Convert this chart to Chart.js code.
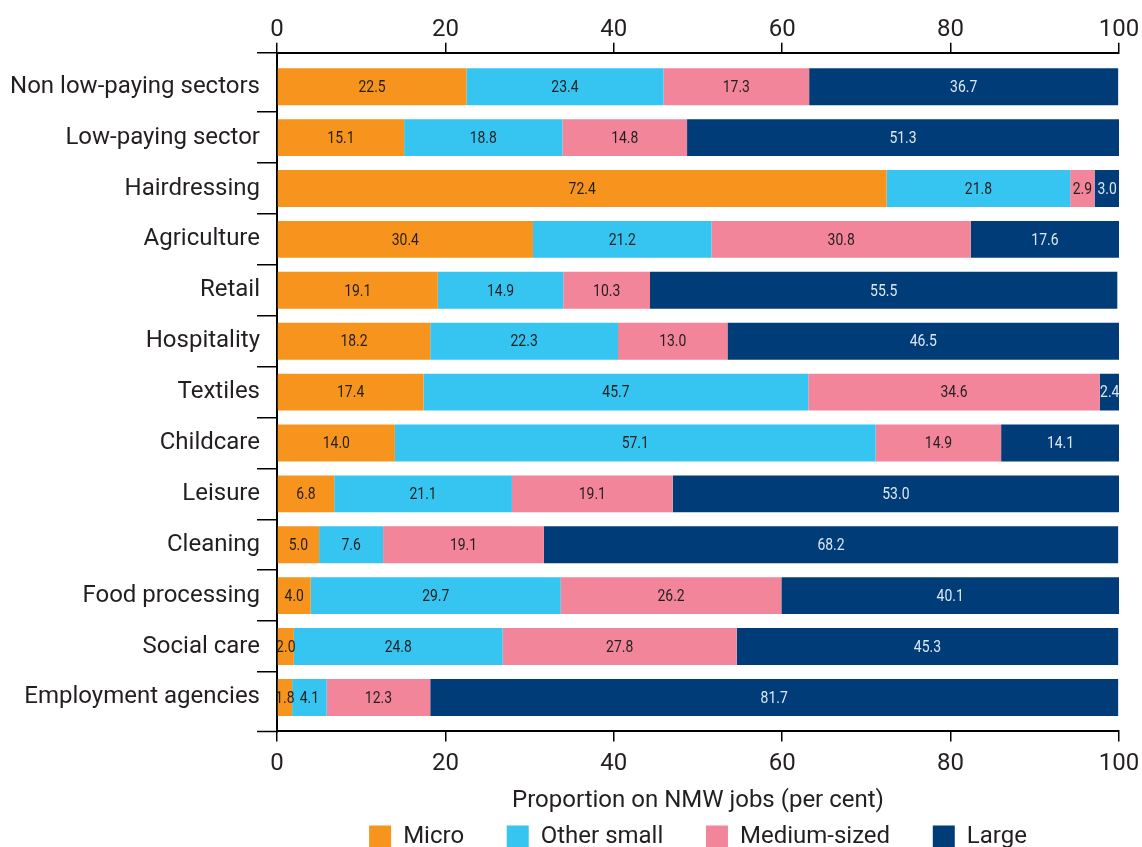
<!DOCTYPE html>
<html>
<head>
<meta charset="utf-8">
<script src="https://cdn.jsdelivr.net/npm/chart.js@4.4.1/dist/chart.umd.min.js"></script>
<style>
  body { margin: 0; background: #fff; }
  #wrap { width: 1142px; height: 847px; }
</style>
</head>
<body>
<div id="wrap"><canvas id="sizeChart"></canvas></div>
<script>
const sectors = [
  "Non low-paying sectors", "Low-paying sector", "Hairdressing", "Agriculture", "Retail",
  "Hospitality", "Textiles", "Childcare", "Leisure", "Cleaning", "Food processing",
  "Social care", "Employment agencies"
];
const micro = [22.5, 15.1, 72.4, 30.4, 19.1, 18.2, 17.4, 14.0, 6.8, 5.0, 4.0, 2.0, 1.8];
const otherSmall = [23.4, 18.8, 21.8, 21.2, 14.9, 22.3, 45.7, 57.1, 21.1, 7.6, 29.7, 24.8, 4.1];
const mediumSized = [17.3, 14.8, 2.9, 30.8, 10.3, 13.0, 34.6, 14.9, 19.1, 19.1, 26.2, 27.8, 12.3];
const large = [36.7, 51.3, 3.0, 17.6, 55.5, 46.5, 2.4, 14.1, 53.0, 68.2, 40.1, 45.3, 81.7];
const xTicks = [0, 20, 40, 60, 80, 100];

const fontFamily = "Roboto, 'Liberation Sans', sans-serif";
const textColor = "#231f20";
const gap = "\u00a0\u00a0\u00a0\u00a0\u00a0\u2009";

// values written in the middle of each segment
const segmentLabels = {
  id: "segmentLabels",
  afterDatasetsDraw(chart) {
    const ctx = chart.ctx;
    ctx.save();
    ctx.font = "17px " + fontFamily;
    ctx.textAlign = "center";
    ctx.textBaseline = "middle";
    chart.data.datasets.forEach((ds, i) => {
      const meta = chart.getDatasetMeta(i);
      meta.data.forEach((bar, j) => {
        const cx = (bar.x + bar.base) / 2;
        ctx.fillStyle = i === 3 ? "#dde7f2" : textColor;
        ctx.save();
        ctx.translate(cx, bar.y + 1);
        ctx.scale(0.82, 1);
        ctx.fillText(ds.data[j].toFixed(1), 0, 0);
        ctx.restore();
      });
    });
    ctx.restore();
  }
};

// small ticks left of the axis at the two corners
const cornerTicks = {
  id: "cornerTicks",
  afterDraw(chart) {
    const { ctx, chartArea } = chart;
    ctx.save();
    ctx.strokeStyle = "#000";
    ctx.lineWidth = 1.5;
    ctx.beginPath();
    [chartArea.top, chartArea.bottom].forEach(y => {
      ctx.moveTo(chartArea.left - 20, y);
      ctx.lineTo(chartArea.left, y);
    });
    ctx.stroke();
    ctx.restore();
  }
};

const axisCommon = {
  min: 0,
  max: 100,
  afterBuildTicks: (scale) => { scale.ticks = xTicks.map(v => ({ value: v })); },
  afterFit: (scale) => { scale.paddingLeft = 0; scale.paddingRight = 0; },
  grid: { drawOnChartArea: false, color: "#000", tickLength: 10, lineWidth: 1.5 },
  border: { color: "#000", width: 2 }
};

new Chart(document.getElementById("sizeChart"), {
  type: "bar",
  data: {
    labels: sectors,
    datasets: [
      { label: "Micro", data: micro, backgroundColor: "#f7941d" },
      { label: "Other small", data: otherSmall, backgroundColor: "#36c5f1" },
      { label: "Medium-sized", data: mediumSized, backgroundColor: "#f2859a" },
      { label: "Large", data: large, backgroundColor: "#003d78" }
    ]
  },
  options: {
    indexAxis: "y",
    responsive: true,
    maintainAspectRatio: false,
    animation: false,
    categoryPercentage: 1,
    barPercentage: 0.725,
    layout: { padding: { top: 18, right: 23, bottom: -12, left: 0 } },
    plugins: {
      legend: {
        position: "bottom",
        fullSize: false,
        labels: {
          color: textColor,
          font: { size: 24, family: fontFamily },
          boxWidth: 22,
          boxHeight: 23,
          padding: 8,
          generateLabels: (chart) =>
            Chart.defaults.plugins.legend.labels.generateLabels(chart).map((item, i, all) => {
              if (i < all.length - 1) item.text = item.text + gap;
              return item;
            })
        }
      },
      tooltip: { enabled: false }
    },
    scales: {
      x: Object.assign({}, axisCommon, {
        stacked: true,
        position: "bottom",
        ticks: { color: textColor, font: { size: 24, family: fontFamily }, padding: 8 },
        title: {
          display: true,
          text: "Proportion on NMW jobs (per cent)",
          color: textColor,
          font: { size: 24, family: fontFamily },
          padding: { top: 0, bottom: 2 }
        }
      }),
      x2: Object.assign({}, axisCommon, {
        position: "top",
        ticks: { color: textColor, font: { size: 24, family: fontFamily }, padding: -2 }
      }),
      y: {
        stacked: true,
        // leave a little room above the first and below the last band
        afterBuildTicks: (scale) => {
          scale._startValue -= 0.167;
          scale._valueRange += 0.334;
        },
        afterFit: (scale) => { scale.width = 277; },
        grid: {
          drawOnChartArea: false,
          offset: true,
          tickLength: 20,
          lineWidth: 1.5,
          color: (c) => (c.index > 0 && c.index < sectors.length) ? "#000" : "rgba(0,0,0,0)"
        },
        border: { color: "#000", width: 2 },
        ticks: { color: textColor, font: { size: 24, family: fontFamily }, padding: -3 }
      }
    }
  },
  plugins: [segmentLabels, cornerTicks]
});
</script>
</body>
</html>
